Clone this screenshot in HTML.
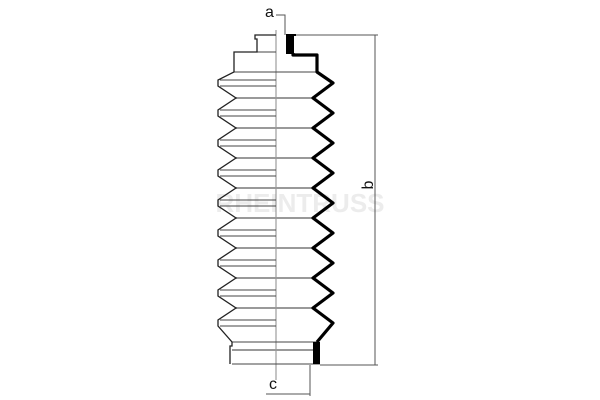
<!DOCTYPE html>
<html><head><style>body{margin:0;background:#fff}svg{display:block}</style></head><body>
<svg width="600" height="400" viewBox="0 0 600 400" xmlns="http://www.w3.org/2000/svg" font-family="Liberation Sans, sans-serif">
<rect width="600" height="400" fill="#fff"/>
<text x="300" y="212" font-size="26" fill="#ececec" text-anchor="middle" font-weight="bold">RHEINTRUSS</text>
<line x1="276" y1="30" x2="276" y2="380" stroke="#888" stroke-width="1"/>
<g stroke="#999" stroke-width="2">
<line x1="236" y1="98" x2="276" y2="98"/><line x1="236" y1="128" x2="276" y2="128"/><line x1="236" y1="158" x2="276" y2="158"/><line x1="236" y1="188" x2="276" y2="188"/><line x1="236" y1="218" x2="276" y2="218"/><line x1="236" y1="248" x2="276" y2="248"/><line x1="236" y1="278" x2="276" y2="278"/><line x1="236" y1="308" x2="276" y2="308"/>
<line x1="276" y1="98" x2="313" y2="98"/><line x1="276" y1="128" x2="313" y2="128"/><line x1="276" y1="158" x2="313" y2="158"/><line x1="276" y1="188" x2="313" y2="188"/><line x1="276" y1="218" x2="313" y2="218"/><line x1="276" y1="248" x2="313" y2="248"/><line x1="276" y1="278" x2="313" y2="278"/><line x1="276" y1="308" x2="313" y2="308"/>
<line x1="232" y1="350" x2="276" y2="350"/><line x1="276" y1="350" x2="315" y2="350"/>
</g>
<g stroke="#444" stroke-width="1">
<line x1="220" y1="80" x2="276" y2="80"/><line x1="220" y1="86" x2="276" y2="86"/>
<line x1="220" y1="110" x2="276" y2="110"/><line x1="220" y1="116" x2="276" y2="116"/>
<line x1="220" y1="140" x2="276" y2="140"/><line x1="220" y1="146" x2="276" y2="146"/>
<line x1="220" y1="170" x2="276" y2="170"/><line x1="220" y1="176" x2="276" y2="176"/>
<line x1="220" y1="200" x2="276" y2="200"/><line x1="220" y1="206" x2="276" y2="206"/>
<line x1="220" y1="230" x2="276" y2="230"/><line x1="220" y1="236" x2="276" y2="236"/>
<line x1="220" y1="260" x2="276" y2="260"/><line x1="220" y1="266" x2="276" y2="266"/>
<line x1="220" y1="290" x2="276" y2="290"/><line x1="220" y1="296" x2="276" y2="296"/>
<line x1="220" y1="320" x2="276" y2="320"/><line x1="220" y1="326" x2="276" y2="326"/>
<line x1="234" y1="72" x2="317" y2="72"/><line x1="257" y1="52" x2="276" y2="52"/>
<line x1="232" y1="342" x2="317" y2="342"/><line x1="232" y1="364" x2="320" y2="364"/>
</g>
<polyline fill="none" stroke="#222" stroke-width="1.3" points="276,35 255,35 255,39 257,39 257,52 234,52 234,72 218,80 218,86 236,98 218,110 218,116 236,128 218,140 218,146 236,158 218,170 218,176 236,188 218,200 218,206 236,218 218,230 218,236 236,248 218,260 218,266 236,278 218,290 218,296 236,308 218,320 218,326 232,342 232,346 230,346 230,364"/>
<polyline fill="none" stroke="#000" stroke-width="3.2" stroke-linejoin="round" points="293,53 293,55 317,55 317,72 333,83 313,98 333,113 313,128 333,143 313,158 333,173 313,188 333,203 313,218 333,233 313,248 333,263 313,278 333,293 313,308 333,323 317,342"/>
<rect x="286" y="36" width="8" height="18" fill="#000"/>
<rect x="313" y="342" width="7" height="22" fill="#000"/>
<line x1="286" y1="35" x2="296" y2="35" stroke="#000" stroke-width="2"/>
<g stroke="#555" stroke-width="1" fill="none">
<polyline points="276,15 285,15 285,35"/>
<line x1="296" y1="35" x2="378" y2="35"/>
<line x1="375" y1="35" x2="375" y2="365"/>
<line x1="320" y1="365" x2="378" y2="365"/>
<line x1="310" y1="365" x2="310" y2="396"/>
<line x1="266" y1="394" x2="310" y2="394"/>
</g>
<text x="265" y="17" font-size="16" fill="#111">a</text>
<text x="269" y="389" font-size="16" fill="#111">c</text>
<text transform="translate(373,185) rotate(-90)" font-size="16" fill="#111" text-anchor="middle">b</text>
</svg>
</body></html>
